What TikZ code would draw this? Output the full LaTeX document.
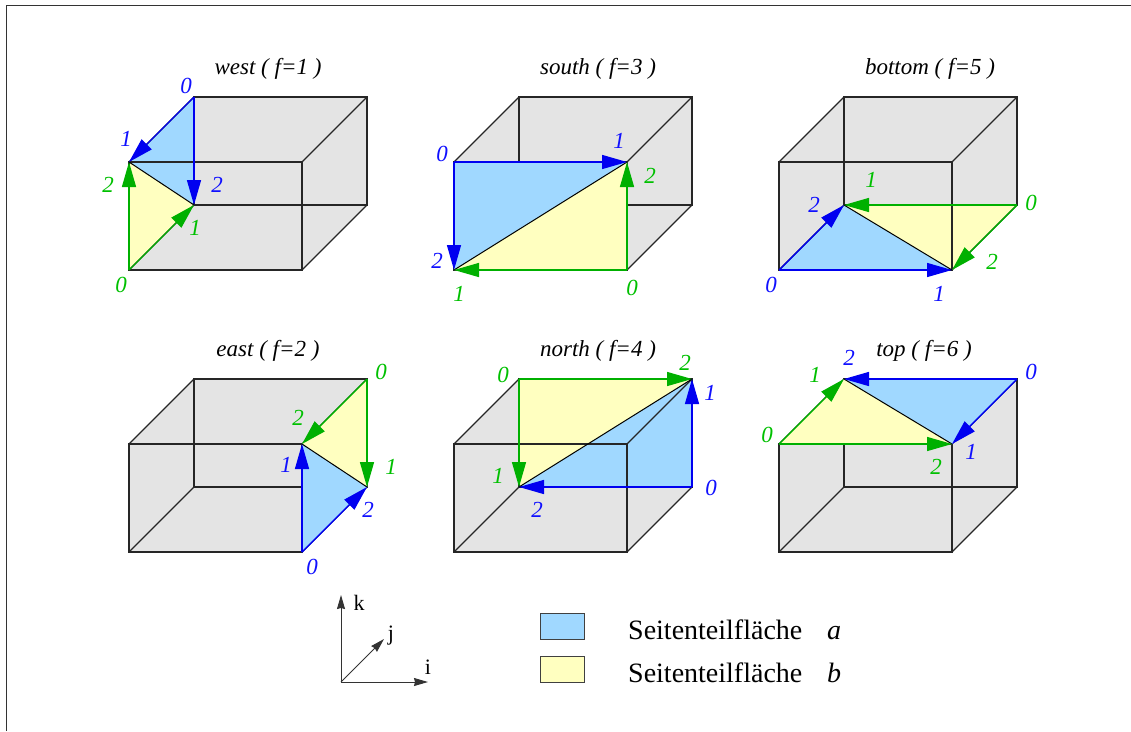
\documentclass[tikz,border=0pt]{standalone}
\usepackage{fontspec}
\setmainfont{Liberation Serif}
\usetikzlibrary{arrows.meta}
\definecolor{facegray}{HTML}{E4E4E4}
\definecolor{faceblue}{HTML}{A0D8FF}
\definecolor{faceyellow}{HTML}{FFFFC0}
\definecolor{lineblue}{HTML}{0000F0}
\definecolor{linegreen}{HTML}{00B000}
\definecolor{textblue}{HTML}{1010FF}
\definecolor{textgreen}{HTML}{00C000}
\tikzset{
  edge/.style={draw=black!85,line width=1.1pt},
  bluearrow/.style={draw=lineblue,line width=1.4pt,-{Triangle[length=25pt,width=14pt]}},
  greenarrow/.style={draw=linegreen,line width=1.4pt,-{Triangle[length=25pt,width=14pt]}},
  diag/.style={draw=black,line width=1pt},
  axisline/.style={draw=black!80,line width=1pt,-{Stealth[length=14pt,width=8pt,inset=1pt]}},
  ttl/.style={font=\fontsize{23}{25}\selectfont\itshape,inner sep=0pt},
  bl/.style={font=\fontsize{23}{25}\selectfont\itshape,text=textblue,inner sep=0pt},
  gl/.style={font=\fontsize{23}{25}\selectfont\itshape,text=textgreen,inner sep=0pt},
  axl/.style={font=\fontsize{22}{24}\selectfont,inner sep=0pt},
  legt/.style={font=\fontsize{28}{30}\selectfont,inner sep=0pt,anchor=base west},
  legi/.style={font=\fontsize{28}{30}\selectfont\itshape,inner sep=0pt,anchor=base west},
  legbox/.style={draw=black!75,line width=1pt}
}
% #1 prefix, #2 #3 lower-left front corner
\newcommand{\mycube}[3]{%
  \coordinate (#1A) at (#2,#3);
  \coordinate (#1B) at (#2+173,#3);
  \coordinate (#1C) at (#2+173,#3-108);
  \coordinate (#1D) at (#2,#3-108);
  \coordinate (#1E) at (#2+65,#3-65);
  \coordinate (#1F) at (#2+238,#3-65);
  \coordinate (#1G) at (#2+238,#3-173);
  \coordinate (#1H) at (#2+65,#3-173);
  \fill[facegray] (#1A)--(#1D)--(#1H)--(#1G)--(#1F)--(#1B)--cycle;
}
\newcommand{\myedges}[1]{%
  \draw[edge] (#1A)--(#1B)--(#1C)--(#1D)--cycle;
  \draw[edge] (#1E)--(#1F)--(#1G)--(#1H)--cycle;
  \draw[edge] (#1A)--(#1E) (#1B)--(#1F) (#1C)--(#1G) (#1D)--(#1H);
}
% #1 prefix; #2#3#4 blue vertices 0,1,2; #5#6#7 yellow vertices 0,1,2
\newcommand{\myfill}[7]{%
  \fill[faceblue] (#1#2)--(#1#3)--(#1#4)--cycle;
  \fill[faceyellow] (#1#5)--(#1#6)--(#1#7)--cycle;
}
\newcommand{\myarrows}[7]{%
  \draw[diag] (#1#3)--(#1#4);
  \draw[bluearrow] (#1#2)--(#1#3);
  \draw[bluearrow] (#1#2)--(#1#4);
  \draw[greenarrow] (#1#5)--(#1#6);
  \draw[greenarrow] (#1#5)--(#1#7);
}
% back face: box edges run over the triangles
\newcommand{\backface}[7]{%
  \myfill{#1}{#2}{#3}{#4}{#5}{#6}{#7}\myedges{#1}\myarrows{#1}{#2}{#3}{#4}{#5}{#6}{#7}}
% front face: triangles hide the box edges
\newcommand{\frontface}[7]{%
  \myedges{#1}\myfill{#1}{#2}{#3}{#4}{#5}{#6}{#7}\myarrows{#1}{#2}{#3}{#4}{#5}{#6}{#7}}
\begin{document}
\begin{tikzpicture}[x=1pt,y=-1pt]
\useasboundingbox (0,0) rectangle (1131,731);
\coordinate (frameA) at (6.5,731);
\coordinate (frameB) at (6.5,5.5);
\coordinate (frameC) at (1131,5.5);
\draw[black!80,line width=1.1pt] (frameA)--(frameB)--(frameC);

\mycube{w}{129}{270}
\backface{w}{H}{D}{E}{A}{E}{D}
\mycube{s}{454}{270}
\frontface{s}{D}{C}{A}{B}{A}{C}
\mycube{b}{779}{270}
\backface{b}{A}{B}{E}{F}{E}{B}
\mycube{e}{129}{552}
\frontface{e}{B}{C}{F}{G}{F}{C}
\mycube{n}{454}{552}
\backface{n}{F}{G}{E}{H}{E}{G}
\mycube{t}{779}{552}
\frontface{t}{G}{C}{H}{D}{H}{C}

\node[ttl] (tw) at (268,69) {west ( f=1 )};
\node[ttl] (ts) at (598,69) {south ( f=3 )};
\node[ttl] (tb) at (930,69) {bottom ( f=5 )};
\node[ttl] (te) at (268,351) {east ( f=2 )};
\node[ttl] (tn) at (598,351) {north ( f=4 )};
\node[ttl] (tt) at (924,351) {top ( f=6 )};

\node[bl] (wb0) at (186,86) {0};
\node[bl] (wb1) at (126,139) {1};
\node[bl] (wb2) at (217,185) {2};
\node[gl] (wg0) at (121,285) {0};
\node[gl] (wg1) at (195,228) {1};
\node[gl] (wg2) at (108,185) {2};

\node[bl] (sb0) at (442,154) {0};
\node[bl] (sb1) at (619,141) {1};
\node[bl] (sb2) at (437,261) {2};
\node[gl] (sg0) at (632,288) {0};
\node[gl] (sg1) at (459,294) {1};
\node[gl] (sg2) at (650,176) {2};

\node[bl] (bb0) at (771,285) {0};
\node[bl] (bb1) at (939,294) {1};
\node[bl] (bb2) at (814,205) {2};
\node[gl] (bg0) at (1031,203) {0};
\node[gl] (bg1) at (871,180) {1};
\node[gl] (bg2) at (992,262) {2};

\node[gl] (eg0) at (381,372) {0};
\node[gl] (eg1) at (391,467) {1};
\node[gl] (eg2) at (298,418) {2};
\node[bl] (eb0) at (312,567) {0};
\node[bl] (eb1) at (286,465) {1};
\node[bl] (eb2) at (368,510) {2};

\node[gl] (ng0) at (503,375) {0};
\node[gl] (ng1) at (498,476) {1};
\node[gl] (ng2) at (685,363) {2};
\node[bl] (nb0) at (711,488) {0};
\node[bl] (nb1) at (710,393) {1};
\node[bl] (nb2) at (537,510) {2};

\node[gl] (tg0) at (767,435) {0};
\node[gl] (tg1) at (815,375) {1};
\node[gl] (tg2) at (936,467) {2};
\node[bl] (tb0) at (1031,372) {0};
\node[bl] (tb1) at (971,452) {1};
\node[bl] (tb2) at (849,358) {2};

% axes
\coordinate (orig) at (341,682);
\coordinate (ktip) at (341,595);
\coordinate (jtip) at (384,639);
\coordinate (itip) at (428,682);
\draw[axisline] (orig)--(ktip);
\draw[axisline] (orig)--(jtip);
\draw[axisline] (orig)--(itip);
\node[axl] (kl) at (359,603) {k};
\node[axl] (jl) at (391,636) {j};
\node[axl] (il) at (428,667) {i};

% legend
\draw[legbox,fill=faceblue] (540,613) rectangle (584,639);
\draw[legbox,fill=faceyellow] (540,656) rectangle (584,682);
\node[legt] (la) at (628,639) {Seitenteilfläche};
\node[legi] (lai) at (827,639) {a};
\node[legt] (lb) at (628,682) {Seitenteilfläche};
\node[legi] (lbi) at (827,682) {b};
\end{tikzpicture}
\end{document}
